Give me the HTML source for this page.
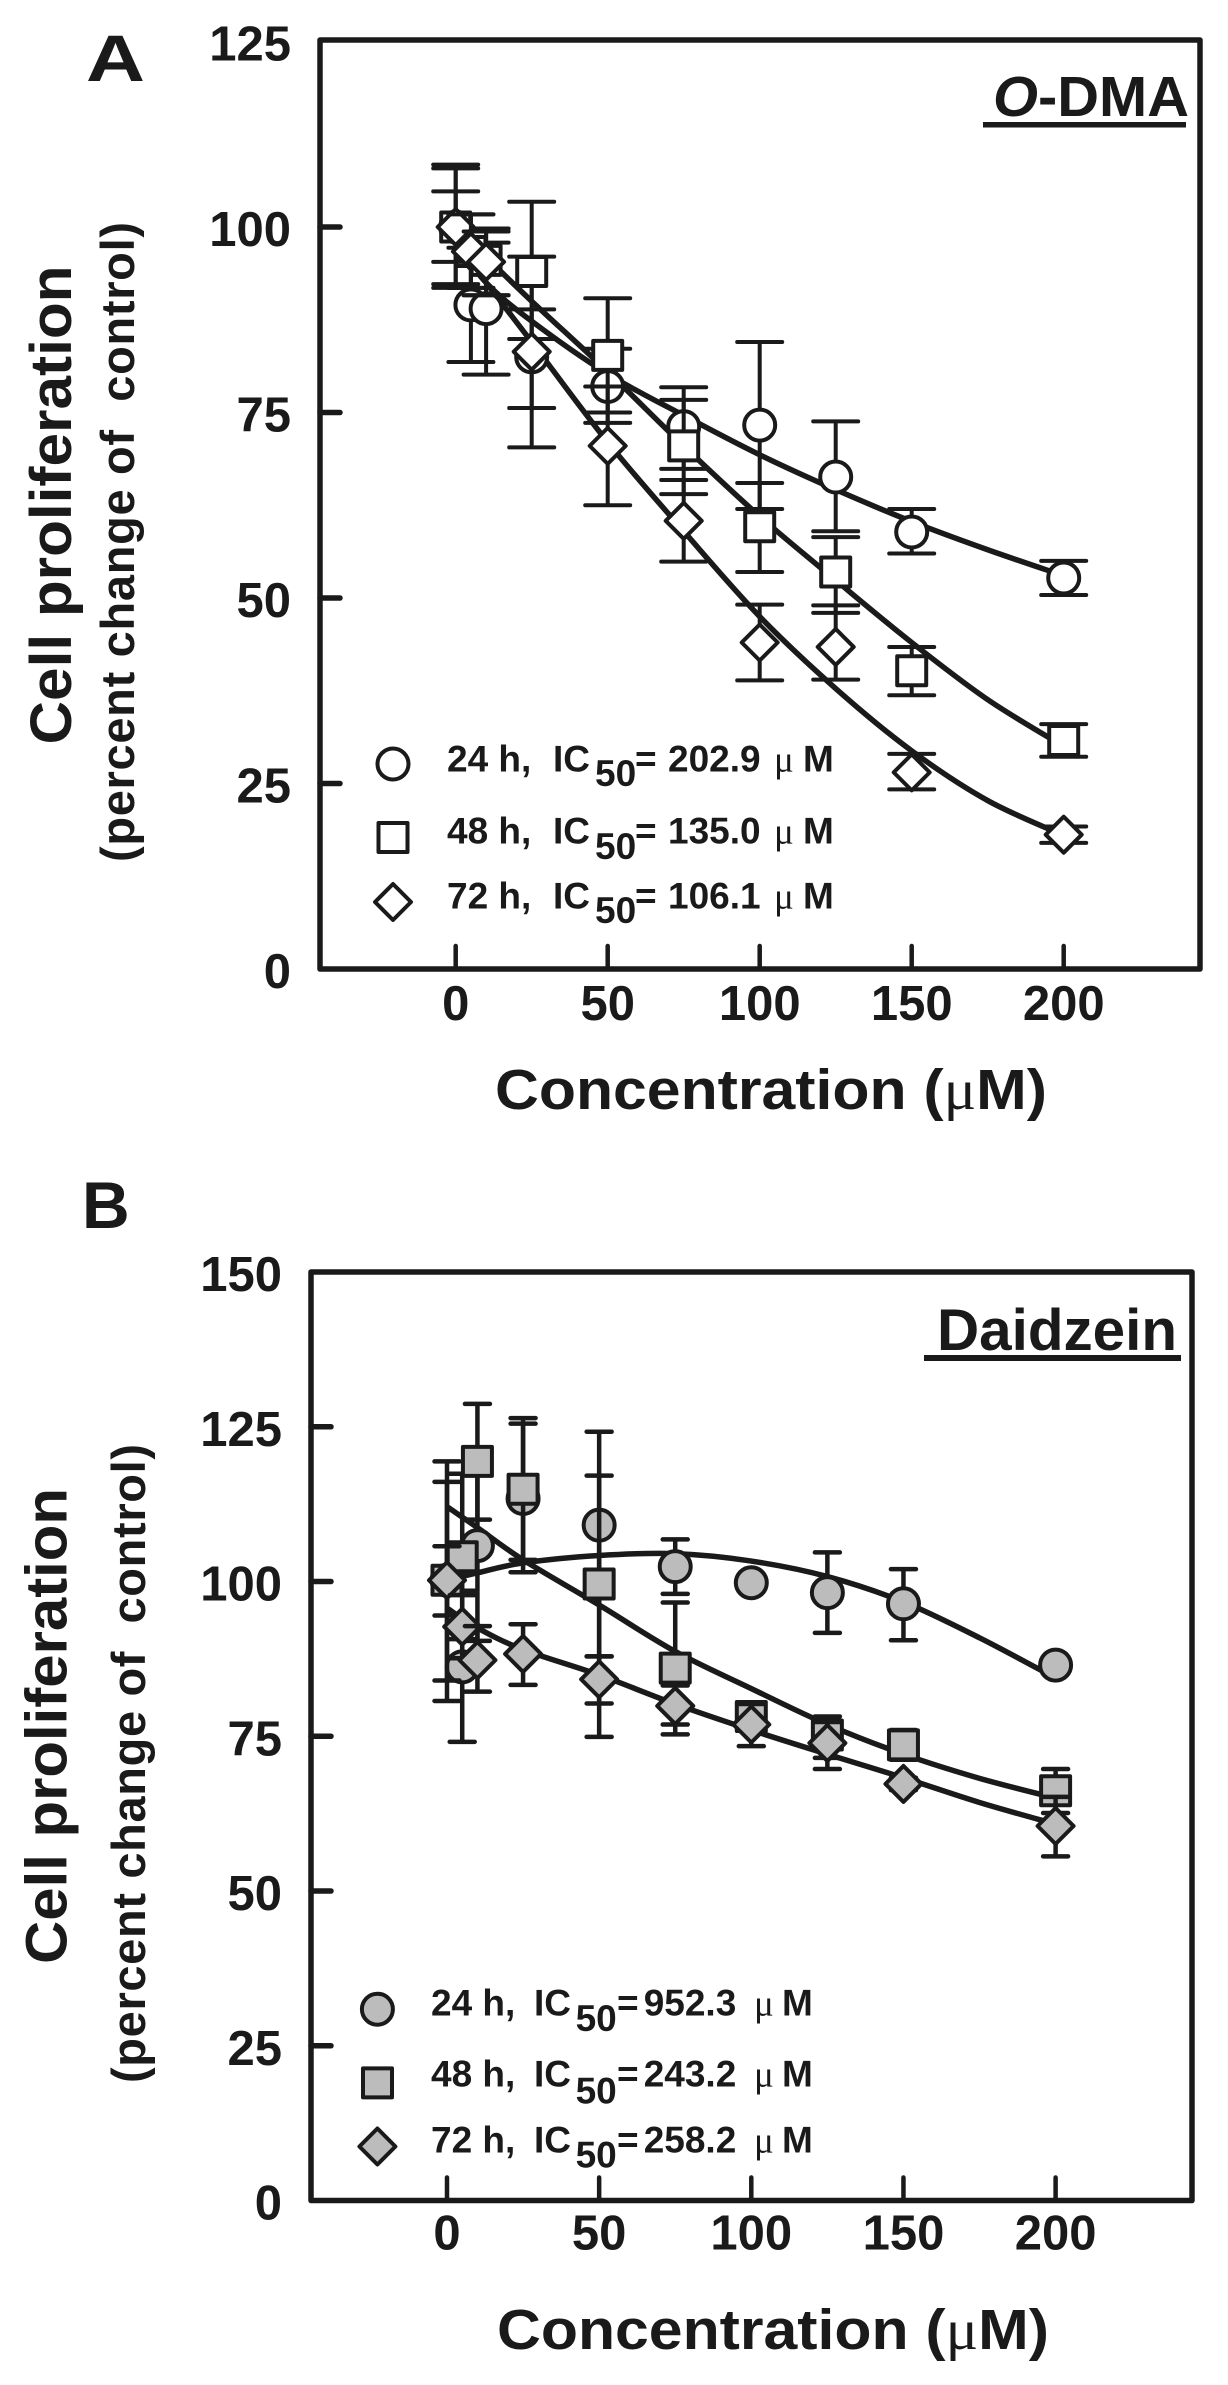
<!DOCTYPE html>
<html lang="en">
<head>
<meta charset="utf-8">
<title>Cell proliferation: O-DMA and Daidzein</title>
<style>
html,body{margin:0;padding:0;background:#fff}
svg{display:block}
text{font-family:"Liberation Sans",sans-serif;font-weight:700;fill:#1a1a1a;white-space:pre}
.mu{font-family:"Liberation Serif",serif;font-weight:400}
</style>
</head>
<body>
<svg id="figure" xmlns="http://www.w3.org/2000/svg" width="1228" height="2385" viewBox="0 0 1228 2385">
  <rect width="1228" height="2385" fill="#fff"/>

  <g id="panel-a">
    <text x="86" y="81" font-size="66" textLength="59" lengthAdjust="spacingAndGlyphs">A</text>
    <rect x="320" y="40" width="880" height="929" fill="none" stroke="#1a1a1a" stroke-width="5.5" stroke-linejoin="round"/>
    <text x="993" y="116" font-size="57" textLength="196" lengthAdjust="spacingAndGlyphs"><tspan font-style="italic">O</tspan>-DMA</text>
    <rect x="983" y="122" width="203" height="5.5" fill="#1a1a1a"/>
    <text transform="translate(71,505) rotate(-90)" text-anchor="middle" font-size="58" textLength="479" lengthAdjust="spacingAndGlyphs">Cell proliferation</text>
    <text transform="translate(134,542) rotate(-90)" text-anchor="middle" font-size="47" textLength="640" lengthAdjust="spacing">(percent change of  control)</text>
    <text x="495" y="1109" font-size="57" textLength="552" lengthAdjust="spacingAndGlyphs">Concentration (<tspan class="mu" font-weight="700">μ</tspan>M)</text>
    <g id="panel-a-axes"></g>
    <g id="panel-a-plot"></g>
    <g font-size="37">
      <circle cx="393" cy="764" r="15.5" fill="#fff" stroke="#1a1a1a" stroke-width="4"/>
      <rect x="378.5" y="823" width="29" height="29" fill="#fff" stroke="#1a1a1a" stroke-width="4" stroke-linejoin="round"/>
      <path d="M393 884L411 902L393 920L375 902Z" fill="#fff" stroke="#1a1a1a" stroke-width="4" stroke-linejoin="round"/>
      <g>
        <text x="447" y="771.7" font-size="37">24 h,</text><text x="553" y="771.7" font-size="37">IC</text><text x="595" y="786" font-size="37">50</text><text x="635" y="771.7" font-size="37">=</text><text x="668" y="771.7" font-size="37">202.9</text><text class="mu" x="774" y="771.7" font-size="37">μ</text><text x="803" y="771.7" font-size="37">M</text>
      </g>
      <g>
        <text x="447" y="843.3" font-size="37">48 h,</text><text x="553" y="843.3" font-size="37">IC</text><text x="595" y="859" font-size="37">50</text><text x="635" y="843.3" font-size="37">=</text><text x="668" y="843.3" font-size="37">135.0</text><text class="mu" x="774" y="843.3" font-size="37">μ</text><text x="803" y="843.3" font-size="37">M</text>
      </g>
      <g>
        <text x="447" y="908.3" font-size="37">72 h,</text><text x="553" y="908.3" font-size="37">IC</text><text x="595" y="923" font-size="37">50</text><text x="635" y="908.3" font-size="37">=</text><text x="668" y="908.3" font-size="37">106.1</text><text class="mu" x="774" y="908.3" font-size="37">μ</text><text x="803" y="908.3" font-size="37">M</text>
      </g>
    </g>
  </g>

  <g id="panel-b">
    <text x="82" y="1228" font-size="66">B</text>
    <rect x="311" y="1272" width="881" height="928.5" fill="none" stroke="#1a1a1a" stroke-width="5.5" stroke-linejoin="round"/>
    <text x="937" y="1350" font-size="58" textLength="240" lengthAdjust="spacingAndGlyphs">Daidzein</text>
    <rect x="924" y="1355" width="257" height="6" fill="#1a1a1a"/>
    <text transform="translate(66.5,1726) rotate(-90)" text-anchor="middle" font-size="58" textLength="476" lengthAdjust="spacingAndGlyphs">Cell proliferation</text>
    <text transform="translate(145,1763.5) rotate(-90)" text-anchor="middle" font-size="47" textLength="639" lengthAdjust="spacing">(percent change of  control)</text>
    <text x="497" y="2349" font-size="57" textLength="552" lengthAdjust="spacingAndGlyphs">Concentration (<tspan class="mu" font-weight="700">μ</tspan>M)</text>
    <g id="panel-b-axes"></g>
    <g id="panel-b-plot"></g>
    <g>
      <circle cx="377.4" cy="2009.2" r="15.5" fill="#bcbcbc" stroke="#1a1a1a" stroke-width="4"/>
      <rect x="363" y="2068.4" width="29" height="29" fill="#bcbcbc" stroke="#1a1a1a" stroke-width="4" stroke-linejoin="round"/>
      <path d="M377.4 2128.5L395.4 2146.5L377.4 2164.5L359.4 2146.5Z" fill="#bcbcbc" stroke="#1a1a1a" stroke-width="4" stroke-linejoin="round"/>
      <g>
        <text x="431" y="2015.3" font-size="37">24 h,</text><text x="534" y="2015.3" font-size="37">IC</text><text x="575.6" y="2030.8" font-size="37">50</text><text x="617" y="2015.3" font-size="37">=</text><text x="643.7" y="2015.3" font-size="37">952.3</text><text class="mu" x="754" y="2015.3" font-size="37">μ</text><text x="782" y="2015.3" font-size="37">M</text>
      </g>
      <g>
        <text x="431" y="2086.7" font-size="37">48 h,</text><text x="534" y="2086.7" font-size="37">IC</text><text x="575.6" y="2103.3" font-size="37">50</text><text x="617" y="2086.7" font-size="37">=</text><text x="643.7" y="2086.7" font-size="37">243.2</text><text class="mu" x="754" y="2086.7" font-size="37">μ</text><text x="782" y="2086.7" font-size="37">M</text>
      </g>
      <g>
        <text x="431" y="2152.3" font-size="37">72 h,</text><text x="534" y="2152.3" font-size="37">IC</text><text x="575.6" y="2167.7" font-size="37">50</text><text x="617" y="2152.3" font-size="37">=</text><text x="643.7" y="2152.3" font-size="37">258.2</text><text class="mu" x="754" y="2152.3" font-size="37">μ</text><text x="782" y="2152.3" font-size="37">M</text>
      </g>
    </g>
  </g>
</svg>

<script>
/* Shared categories and tick labels */
var concentrations = [0, 5, 10, 25, 50, 75, 100, 125, 150, 200];
var curveConcentrations = [0, 10, 25, 50, 75, 100, 125, 150, 175, 200];
var xTickValues = [0, 50, 100, 150, 200];
var yTicksA = [0, 25, 50, 75, 100, 125];
var yTicksB = [0, 25, 50, 75, 100, 125, 150];

/* Panel A: O-DMA */
var a24Mean = [100, 89.5, 89, 82.5, 78.5, 73.1, 73.3, 66.3, 58.9, 52.7];
var a24Hi = [108.4, 97.2, 97.9, 96, 83.6, 78.4, 84.5, 73.8, 62, 55];
var a24Lo = [92.3, 81.8, 80.1, 70.3, 73.6, 67.4, 62, 59, 56, 50.4];
var a24Curve = [98, 92.5, 87.3, 80.2, 74.6, 69.3, 64.6, 60.3, 56.5, 53];

var a48Mean = [100, 96.7, 95.5, 94, 82.7, 70.5, 59.6, 53.5, 40.2, 30.8];
var a48Hi = [107.9, 101.7, 99.8, 103.4, 90.4, 76.7, 65.5, 58.2, 43.4, 33];
var a48Lo = [91.8, 91.8, 90.8, 84.9, 75, 64, 53.5, 48, 36.9, 28.6];
var a48Curve = [100.5, 96, 90, 80.5, 70.5, 61, 52.4, 44, 36.3, 30];

var a72Mean = [100, 96.7, 95.3, 83.2, 70.5, 60.4, 44, 43.4, 26.5, 18.1];
var a72Hi = [104.8, 101.7, 99.4, 88.9, 78.5, 65.9, 49.1, 49, 29, 19.2];
var a72Lo = [95.3, 91.8, 90.8, 75.6, 62.5, 54.9, 38.9, 39, 24.2, 17];
var a72Curve = [98, 92.5, 84.5, 71, 59, 47.5, 37.8, 29.4, 22.7, 18];

/* Panel B: Daidzein */
var b24Mean = [100.2, 86.2, 105.8, 113.4, 109.1, 102.4, 99.8, 98.2, 96.4, 86.5];
var b24Hi = [119.4, 98.5, 121.3, 125.5, 124.2, 106.8, 101, 104.7, 102, 87.2];
var b24Lo = [80.7, 74.1, 90.4, 101.5, 87.9, 98, 98.7, 91.7, 90.5, 85.8];
var b24Curve = [100.2, 101.4, 103, 104.2, 104.5, 103.3, 100.8, 96.7, 90.9, 84.4];

var b48Mean = [100.2, 104, 119.4, 114.9, 99.6, 86, 78.2, 75.2, 73.6, 66.2];
var b48Hi = [116.1, 117.4, 128.7, 126.4, 117.1, 96.6, 79.3, 78.2, 76, 69.7];
var b48Lo = [84, 90.7, 110, 103.5, 80.3, 76.9, 76.3, 71.5, 71.2, 62.6];
var b48Curve = [112.1, 108.7, 103.5, 96.2, 88.7, 82.7, 76.9, 72.1, 68.2, 65];

var b72Mean = [100.2, 92.7, 87.3, 88.3, 84.2, 79.9, 76.9, 73.9, 67.3, 60.5];
var b72Hi = [105.7, 97.8, 92.8, 93.1, 87.9, 83.2, 80.2, 77.3, 68.3, 65.2];
var b72Lo = [94.5, 87.6, 82.2, 83.3, 74.9, 75.3, 73.4, 69.7, 66.3, 55.6];
var b72Curve = [95.7, 92.5, 89, 84.9, 80.2, 76, 72.1, 68.3, 64.3, 60.8];

/* Axis functions */
function xA(v) { return 455.7 + 3.04 * v; }
function yA(v) { return 969 - 7.42 * v; }
function xB(v) { return 447 + 3.043 * v; }
function yB(v) { return 2200.5 - 6.19 * v; }

var NS = 'http://www.w3.org/2000/svg';
var INK = '#1a1a1a';

function curvePath(xs, ys, fx, fy) {
  var p = xs.map(function (x, i) { return [fx(x), fy(ys[i])]; });
  var d = 'M' + p[0][0] + ' ' + p[0][1];
  for (var i = 0; i < p.length - 1; i++) {
    var p0 = p[Math.max(0, i - 1)], p1 = p[i], p2 = p[i + 1], p3 = p[Math.min(p.length - 1, i + 2)];
    d += 'C' + (p1[0] + (p2[0] - p0[0]) / 6) + ' ' + (p1[1] + (p2[1] - p0[1]) / 6) + ' ' +
         (p2[0] - (p3[0] - p1[0]) / 6) + ' ' + (p2[1] - (p3[1] - p1[1]) / 6) + ' ' + p2[0] + ' ' + p2[1];
  }
  return d;
}

function drawAxes(group, yTicks, fx, fy, yLabelX, xLabelY, tickLeft, frameBottom) {
  yTicks.forEach(function (t) {
    var label = document.createElementNS(NS, 'text');
    
    
    label.setAttribute('x', yLabelX);
    label.setAttribute('y', fy(t) + 19);
    label.setAttribute('text-anchor', 'end');
    label.setAttribute('font-size', '49');
    label.textContent = t;
    group.appendChild(label);
    if (t === 0 || t === yTicks[yTicks.length - 1]) return;
    var tick = document.createElementNS(NS, 'line');
    
    
    tick.setAttribute('x1', tickLeft);
    tick.setAttribute('x2', tickLeft + 20);
    tick.setAttribute('y1', fy(t));
    tick.setAttribute('y2', fy(t));
    tick.setAttribute('stroke', INK);
    tick.setAttribute('stroke-width', '5.5');
    tick.setAttribute('stroke-linecap', 'round');
    group.appendChild(tick);
  });
  xTickValues.forEach(function (t) {
    var tick = document.createElementNS(NS, 'line');
    
    
    tick.setAttribute('x1', fx(t));
    tick.setAttribute('x2', fx(t));
    tick.setAttribute('y1', frameBottom);
    tick.setAttribute('y2', frameBottom - 23);
    tick.setAttribute('stroke', INK);
    tick.setAttribute('stroke-width', '4.5');
    tick.setAttribute('stroke-linecap', 'round');
    group.appendChild(tick);
    var label = document.createElementNS(NS, 'text');
    
    
    label.setAttribute('x', fx(t));
    label.setAttribute('y', xLabelY);
    label.setAttribute('text-anchor', 'middle');
    label.setAttribute('font-size', '49');
    label.textContent = t;
    group.appendChild(label);
  });
}

function drawCurve(group, values, fx, fy) {
  var el = document.createElementNS(NS, 'path');
  
  
  el.setAttribute('d', curvePath(curveConcentrations, values, fx, fy));
  el.setAttribute('fill', 'none');
  el.setAttribute('stroke', INK);
  el.setAttribute('stroke-width', '5.5');
  group.appendChild(el);
}

function drawErrorBar(group, c, hi, lo, fx, fy, capHalf, sw) {
  var d = 'M' + fx(c) + ' ' + fy(hi) + 'V' + fy(lo) +
          'M' + (fx(c) - capHalf) + ' ' + fy(hi) + 'H' + (fx(c) + capHalf) +
          'M' + (fx(c) - capHalf) + ' ' + fy(lo) + 'H' + (fx(c) + capHalf);
  var el = document.createElementNS(NS, 'path');
  
  
  el.setAttribute('d', d);
  el.setAttribute('fill', 'none');
  el.setAttribute('stroke', INK);
  el.setAttribute('stroke-width', sw);
  el.setAttribute('stroke-linecap', 'round');
  group.appendChild(el);
}

function drawMarker(group, shape, px, py, fill) {
  var el;
  if (shape === 'circle') {
    el = document.createElementNS(NS, 'circle');
    
    
    el.setAttribute('cx', px);
    el.setAttribute('cy', py);
    el.setAttribute('r', 15.5);
  } else if (shape === 'square') {
    el = document.createElementNS(NS, 'rect');
    
    
    el.setAttribute('x', px - 14.5);
    el.setAttribute('y', py - 14.5);
    el.setAttribute('width', 29);
    el.setAttribute('height', 29);
  } else {
    el = document.createElementNS(NS, 'path');
    
    
    el.setAttribute('d', 'M' + px + ' ' + (py - 18) + 'L' + (px + 18) + ' ' + py + 'L' + px + ' ' + (py + 18) + 'L' + (px - 18) + ' ' + py + 'Z');
  }
  el.setAttribute('fill', fill);
  el.setAttribute('stroke', INK);
  el.setAttribute('stroke-width', '4');
  el.setAttribute('stroke-linejoin', 'round');
  group.appendChild(el);
}

function drawSeries(group, shape, mean, hi, lo, fx, fy, fill, capHalf, sw) {
  concentrations.forEach(function (c, i) {
    drawErrorBar(group, c, hi[i], lo[i], fx, fy, capHalf, sw);
    drawMarker(group, shape, fx(c), fy(mean[i]), fill);
  });
}

var axesA = document.getElementById('panel-a-axes');
var plotA = document.getElementById('panel-a-plot');
var axesB = document.getElementById('panel-b-axes');
var plotB = document.getElementById('panel-b-plot');

drawAxes(axesA, yTicksA, xA, yA, 291, 1020, 320, 969);
drawAxes(axesB, yTicksB, xB, yB, 282, 2249.5, 311, 2200.5);

drawCurve(plotA, a24Curve, xA, yA);
drawCurve(plotA, a48Curve, xA, yA);
drawCurve(plotA, a72Curve, xA, yA);
drawSeries(plotA, 'circle', a24Mean, a24Hi, a24Lo, xA, yA, '#fff', 22.5, 4);
drawSeries(plotA, 'square', a48Mean, a48Hi, a48Lo, xA, yA, '#fff', 22.5, 4);
drawSeries(plotA, 'diamond', a72Mean, a72Hi, a72Lo, xA, yA, '#fff', 22.5, 4);

drawCurve(plotB, b24Curve, xB, yB);
drawCurve(plotB, b48Curve, xB, yB);
drawCurve(plotB, b72Curve, xB, yB);
drawSeries(plotB, 'circle', b24Mean, b24Hi, b24Lo, xB, yB, '#bcbcbc', 12.5, 4.5);
drawSeries(plotB, 'square', b48Mean, b48Hi, b48Lo, xB, yB, '#bcbcbc', 12.5, 4.5);
drawSeries(plotB, 'diamond', b72Mean, b72Hi, b72Lo, xB, yB, '#bcbcbc', 12.5, 4.5);
</script>
</body>
</html>
